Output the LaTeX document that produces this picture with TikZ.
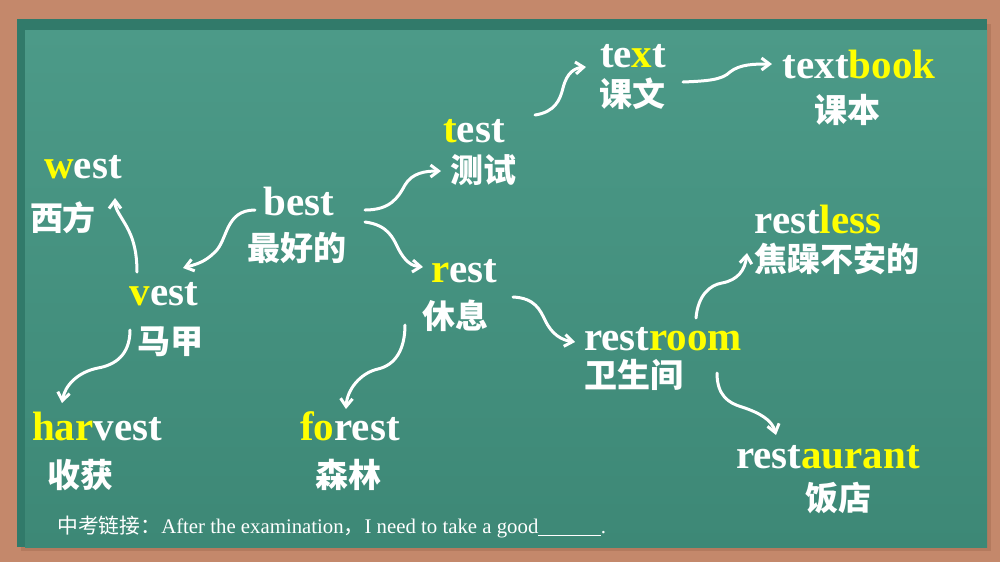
\documentclass[tikz,border=0pt]{standalone}
\usepackage{fontspec}
\setmainfont{Liberation Serif}
\newfontfamily\cjk{Noto Sans CJK SC}
\usetikzlibrary{arrows.meta}
\definecolor{framebrown}{HTML}{C4886B}
\definecolor{shadowbrown}{HTML}{B47A5E}
\definecolor{boarddark}{HTML}{317A6A}
\definecolor{boardtop}{HTML}{4C9A88}
\definecolor{boardbot}{HTML}{3D8876}
\definecolor{hlyellow}{HTML}{FFFF00}
\newcommand{\hl}[1]{\textcolor{hlyellow}{#1}}
\tikzset{
  word/.style={font=\fontsize{30.75}{32}\selectfont\bfseries, text=white, anchor=base, inner sep=0pt},
  zh/.style={font=\cjk\fontsize{24.75}{26}\selectfont\bfseries, text=white, anchor=center, inner sep=0pt},
  note/.style={font=\fontsize{15.6}{17}\selectfont, text=white, anchor=base west, inner sep=0pt},
  conn/.style={draw=white, line width=2.25pt, line cap=round,
    -{Straight Barb[length=6pt,width=9pt]}}
}
\begin{document}
\begin{tikzpicture}[x=0.75pt,y=-0.75pt]
\useasboundingbox (0,0) rectangle (1000,562);
% frame and board
\fill[framebrown] (0,0) rectangle (1000,562);
\fill[shadowbrown] (21,24) rectangle (991,551);
\fill[boarddark] (17,19) rectangle (987,547);
\shade[top color=boardtop, bottom color=boardbot] (25,30) rectangle (987,547);

% words
\node[word] (best) at (299,215) {best};
\node[zh] (bestz) at (297,248) {最好的};
\node[word] (vest) at (164,305) {\hl{v}est};
\node[zh] (vestz) at (170,342) {马甲};
\node[word] (west) at (83,178) {\hl{w}est};
\node[zh] (westz) at (63,218) {西方};
\node[word] (harvest) at (97,440) {\hl{har}vest};
\node[zh] (harvestz) at (80,475) {收获};
\node[word] (test) at (474,142) {\hl{t}est};
\node[zh] (testz) at (483,170) {测试};
\node[word] (text) at (633,67) {te\hl{x}t};
\node[zh] (textz) at (632,94) {课文};
\node[word] (textbook) at (859,78) {text\hl{book}};
\node[zh] (textbookz) at (847,110) {课本};
\node[word] (rest) at (464,282) {\hl{r}est};
\node[zh] (restz) at (455,316) {休息};
\node[word] (forest) at (350,440) {\hl{fo}rest};
\node[zh] (forestz) at (348,475) {森林};
\node[word] (restroom) at (663,350) {rest\hl{room}};
\node[zh] (restroomz) at (634,375) {卫生间};
\node[word] (restless) at (818,233) {rest\hl{less}};
\node[zh] (restlessz) at (837,259) {焦躁不安的};
\node[word] (restaurant) at (828,468) {rest\hl{aurant}};
\node[zh] (restaurantz) at (838,498) {饭店};

\node[note] (exam) at (57,533) {{\cjk 中考链接：}After the examination{\cjk ，}I need to take a good\underline{\hspace{3em}}.};

% connector end points
\coordinate (a1s) at (255,210); \coordinate (a1e) at (183,268);
\coordinate (a2s) at (137,272); \coordinate (a2e) at (115,198);
\coordinate (a3s) at (130,330); \coordinate (a3e) at (62,403);
\coordinate (a4s) at (365,210); \coordinate (a4e) at (441,171);
\coordinate (a5s) at (365,222); \coordinate (a5e) at (423,267);
\coordinate (a6s) at (405,325); \coordinate (a6e) at (346,409);
\coordinate (a7s) at (535,115); \coordinate (a7e) at (586,67);
\coordinate (a8s) at (683,82);  \coordinate (a8e) at (772,64);
\coordinate (a9s) at (513,297); \coordinate (a9e) at (575,342);
\coordinate (a10s) at (696,318); \coordinate (a10e) at (747,253);
\coordinate (a11s) at (717,373); \coordinate (a11e) at (776,435);

% connectors
\draw[conn] (a1s) .. controls (225,210) and (228,240) .. (215,252) .. controls (205,262) and (197,264) .. (a1e);
\draw[conn] (a2s) .. controls (137,245) and (130,232) .. (124,222) .. controls (118,212) and (115,208) .. (a2e);
\draw[conn] (a3s) .. controls (130,355) and (115,365) .. (98,368) .. controls (78,372) and (65,385) .. (a3e);
\draw[conn] (a4s) .. controls (390,210) and (398,198) .. (405,185) .. controls (412,173) and (425,171) .. (a4e);
\draw[conn] (a5s) .. controls (388,225) and (393,238) .. (398,248) .. controls (405,262) and (412,266) .. (a5e);
\draw[conn] (a6s) .. controls (405,350) and (395,365) .. (378,369) .. controls (360,373) and (347,390) .. (a6e);
\draw[conn] (a7s) .. controls (555,112) and (560,100) .. (563,88) .. controls (567,72) and (575,68) .. (a7e);
\draw[conn] (a8s) .. controls (707,81) and (722,80) .. (730,72) .. controls (740,64) and (755,64) .. (a8e);
\draw[conn] (a9s) .. controls (535,298) and (540,310) .. (545,320) .. controls (552,335) and (562,340) .. (a9e);
\draw[conn] (a10s) .. controls (698,295) and (710,285) .. (722,283) .. controls (738,280) and (745,270) .. (a10e);
\draw[conn] (a11s) .. controls (717,395) and (728,403) .. (742,407) .. controls (760,413) and (772,420) .. (a11e);
\end{tikzpicture}
\end{document}
